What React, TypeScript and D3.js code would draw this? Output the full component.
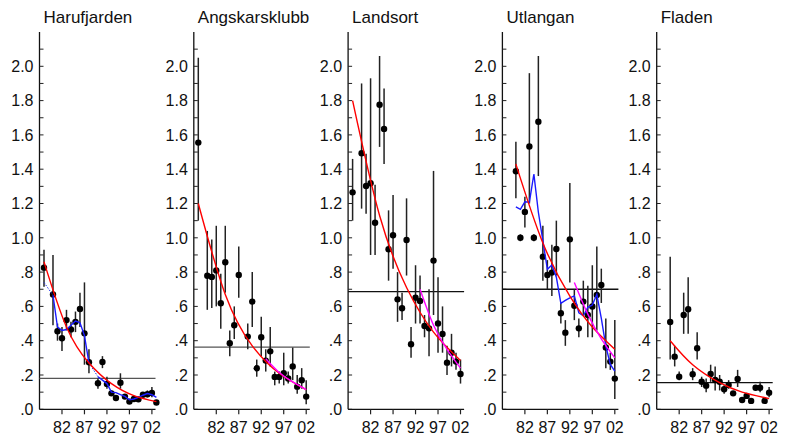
import { useRef, useEffect } from "react";
import * as d3 from "d3";

// station names
const stations = ["Harufjarden", "Angskarsklubb", "Landsort", "Utlangan", "Fladen"];

// Harufjarden
const haruYears = [1978, 1980, 1981, 1982, 1983, 1984, 1985, 1986, 1987, 1988, 1990, 1991, 1992, 1993, 1994, 1995, 1996, 1997, 1998, 1999, 2000, 2001, 2002, 2003];
const haruMean = [0.826, 0.67, 0.455, 0.414, 0.52, 0.466, 0.51, 0.585, 0.443, 0.274, 0.152, 0.276, 0.148, 0.093, 0.066, 0.155, 0.074, 0.045, 0.06, 0.058, 0.085, 0.088, 0.095, 0.04];
const haruLo = [0.715, 0.49, 0.4, 0.34, 0.46, 0.42, 0.45, 0.48, 0.26, 0.21, 0.12, 0.24, 0.12, 0.08, 0.06, 0.12, 0.065, 0.04, 0.05, 0.05, 0.07, 0.07, 0.07, 0.035];
const haruHi = [0.93, 0.9, 0.5, 0.48, 0.58, 0.51, 0.57, 0.68, 0.74, 0.35, 0.18, 0.31, 0.19, 0.11, 0.075, 0.21, 0.085, 0.05, 0.07, 0.065, 0.1, 0.11, 0.13, 0.045];
const haruSmooth = [0.74, 0.665, 0.48, 0.46, 0.465, 0.49, 0.515, 0.505, 0.43, 0.27, 0.19, 0.17, 0.15, 0.1, 0.097, 0.085, 0.075, 0.055, 0.06, 0.07, 0.082, 0.092, 0.085, 0.07];
const haruFit = [[1978, 0.86], [1983, 0.48], [1988, 0.27], [1993, 0.15], [1998, 0.08], [2003, 0.045]];
const haruRef = 0.18;

// Angskarsklubb
const angsYears = [1978, 1980, 1981, 1982, 1983, 1984, 1985, 1986, 1987, 1989, 1990, 1991, 1992, 1993, 1994, 1995, 1996, 1997, 1998, 1999, 2000, 2001, 2002];
const angsMean = [1.555, 0.779, 0.772, 0.81, 0.618, 0.857, 0.385, 0.49, 0.783, 0.424, 0.628, 0.239, 0.42, 0.284, 0.338, 0.189, 0.189, 0.21, 0.18, 0.25, 0.132, 0.169, 0.074];
const angsLo = [1.1, 0.58, 0.59, 0.6, 0.47, 0.68, 0.31, 0.41, 0.65, 0.35, 0.48, 0.19, 0.31, 0.22, 0.25, 0.14, 0.15, 0.14, 0.15, 0.17, 0.09, 0.12, 0.03];
const angsHi = [2.05, 1.04, 0.99, 1.07, 0.79, 1.07, 0.46, 0.6, 0.95, 0.5, 0.8, 0.29, 0.54, 0.35, 0.48, 0.22, 0.22, 0.33, 0.22, 0.36, 0.2, 0.24, 0.17];
const angsFit = [[1978, 1.2], [1984, 0.67], [1990, 0.37], [1996, 0.21], [2002, 0.115]];
const angsRecent = [[1993, 0.295], [1996, 0.215], [1999, 0.16], [2002, 0.115]];
const angsRef = 0.363;

// Landsort
const landYears = [1978, 1980, 1981, 1982, 1983, 1984, 1985, 1986, 1987, 1988, 1989, 1990, 1991, 1992, 1993, 1994, 1995, 1996, 1997, 1998, 1999, 2000, 2001, 2002];
const landMean = [1.265, 1.493, 1.302, 1.318, 1.088, 1.776, 1.635, 0.933, 1.015, 0.641, 0.589, 0.987, 0.379, 0.651, 0.632, 0.486, 0.472, 0.867, 0.501, 0.439, 0.272, 0.33, 0.278, 0.206];
const landLo = [1.1, 1.17, 1.14, 0.9, 0.9, 1.53, 1.43, 0.75, 0.82, 0.51, 0.52, 0.78, 0.3, 0.5, 0.5, 0.42, 0.31, 0.55, 0.33, 0.33, 0.2, 0.25, 0.23, 0.15];
const landHi = [1.46, 1.9, 1.49, 1.93, 1.31, 2.06, 1.87, 1.16, 1.25, 0.8, 0.68, 1.23, 0.48, 0.84, 0.78, 0.55, 0.7, 1.39, 0.77, 0.6, 0.37, 0.44, 0.33, 0.29];
const landFit = [[1978, 1.8], [1984, 1.13], [1990, 0.71], [1996, 0.45], [2002, 0.285]];
const landRecent = [[1993, 0.7], [1996, 0.49], [1999, 0.35], [2002, 0.24]];
const landRef = 0.686;

// Utlangan
const utlaYears = d3.range(1980, 2003);
const utlaMean = [1.388, 1.0, 1.151, 1.532, 1.0, 1.677, 0.89, 0.783, 0.797, 0.935, 0.56, 0.447, 0.991, 0.604, 0.472, 0.628, 0.55, 0.599, 0.667, 0.725, 0.36, 0.278, 0.179];
const utlaLo = [1.23, 0.98, 1.06, 1.2, 0.98, 1.36, 0.75, 0.7, 0.66, 0.78, 0.5, 0.37, 0.74, 0.52, 0.42, 0.55, 0.42, 0.42, 0.46, 0.62, 0.24, 0.23, 0.06];
const utlaHi = [1.56, 1.02, 1.24, 1.96, 1.02, 2.06, 1.07, 0.87, 0.96, 1.1, 0.62, 0.52, 1.32, 0.7, 0.53, 0.75, 0.72, 0.84, 0.95, 0.82, 0.53, 0.33, 0.52];
const utlaSmooth = [1.18, 1.166, 1.21, 1.207, 1.372, 1.149, 0.983, 0.816, 0.842, 0.77, 0.618, 0.635, 0.65, 0.661, 0.563, 0.545, 0.595, 0.608, 0.67, 0.53, 0.37, 0.262, 0.222];
const utlaFit = [[1980, 1.43], [1986, 0.97], [1992, 0.66], [1997, 0.48], [2002, 0.35]];
const utlaRecent = [[1993, 0.74], [1996, 0.555], [1999, 0.41], [2002, 0.3]];
const utlaRef = 0.7;

// Fladen
const fladYears = d3.range(1980, 2003);
const fladMean = [0.509, 0.307, 0.19, 0.55, 0.583, 0.204, 0.356, 0.161, 0.138, 0.206, 0.171, 0.161, 0.117, 0.142, 0.093, 0.177, 0.054, 0.078, 0.049, 0.126, 0.126, 0.049, 0.097];
const fladLo = [0.29, 0.25, 0.17, 0.44, 0.44, 0.17, 0.29, 0.13, 0.1, 0.16, 0.11, 0.11, 0.09, 0.12, 0.08, 0.13, 0.045, 0.065, 0.04, 0.11, 0.1, 0.04, 0.07];
const fladHi = [0.89, 0.37, 0.22, 0.68, 0.77, 0.24, 0.45, 0.19, 0.18, 0.26, 0.25, 0.2, 0.14, 0.17, 0.105, 0.23, 0.065, 0.09, 0.06, 0.14, 0.16, 0.06, 0.13];
const fladFit = [[1980, 0.4], [1985, 0.26], [1991, 0.155], [1996, 0.1], [2002, 0.062]];
const fladRef = 0.155;

// axis ticks
const xTickYears = [1982, 1987, 1992, 1997, 2002];
const xTickLabels = ["82", "87", "92", "97", "02"];
const yTicks = d3.range(0, 22).map((i) => i / 10);

const panels = [
  { years: haruYears, mean: haruMean, lo: haruLo, hi: haruHi, smooth: haruSmooth, fit: haruFit, recent: null, ref: haruRef },
  { years: angsYears, mean: angsMean, lo: angsLo, hi: angsHi, smooth: null, fit: angsFit, recent: angsRecent, ref: angsRef },
  { years: landYears, mean: landMean, lo: landLo, hi: landHi, smooth: null, fit: landFit, recent: landRecent, ref: landRef },
  { years: utlaYears, mean: utlaMean, lo: utlaLo, hi: utlaHi, smooth: utlaSmooth, fit: utlaFit, recent: utlaRecent, ref: utlaRef },
  { years: fladYears, mean: fladMean, lo: fladLo, hi: fladHi, smooth: null, fit: fladFit, recent: null, ref: fladRef },
];

function App() {
  const svgRef = useRef<SVGSVGElement>(null);

  useEffect(() => {
    const w = 785;
    const h = 439;
    const font = "'Liberation Sans', Arial, Helvetica, sans-serif";
    const svg = d3.select(svgRef.current).attr("width", w).attr("height", h);
    svg.selectAll("*").remove();

    // shared scales, each panel is shifted horizontally
    const panelW = 116;
    const xScale = d3.scaleLinear().domain([1977, 2002.8]).range([0, panelW]);
    const yScale = d3.scaleLinear().domain([0, 2.2]).range([409.3, 32]);
    const y0 = yScale(0);

    panels.forEach((p, i) => {
      const g = svg.append("g").attr("transform", `translate(${39.5 + i * 154.3}, 0)`);

      // title
      g.append("text")
        .attr("x", 4)
        .attr("y", 23)
        .attr("font-family", font)
        .attr("font-size", 17)
        .attr("fill", "#111")
        .text(stations[i]);

      // y axis
      g.append("line")
        .attr("x1", 0).attr("x2", 0)
        .attr("y1", yScale(0)).attr("y2", yScale(2.2))
        .attr("stroke", "#111").attr("stroke-width", 1.3);
      g.selectAll(".ytick")
        .data(yTicks)
        .enter()
        .append("line")
        .attr("x1", 0).attr("x2", 4)
        .attr("y1", (d) => yScale(d)).attr("y2", (d) => yScale(d))
        .attr("stroke", "#222").attr("stroke-width", 1);
      g.selectAll(".ylab")
        .data(yTicks.filter((_, k) => k % 2 === 0))
        .enter()
        .append("text")
        .attr("x", -6)
        .attr("y", (d) => yScale(d))
        .attr("dy", "0.36em")
        .attr("text-anchor", "end")
        .attr("font-family", font)
        .attr("font-size", 16)
        .attr("fill", "#111")
        .text((d) => d3.format(".1f")(d).replace(/^0/, ""));

      // x axis
      g.append("line")
        .attr("x1", 0).attr("x2", panelW)
        .attr("y1", y0).attr("y2", y0)
        .attr("stroke", "#111").attr("stroke-width", 1.3);
      g.selectAll(".xtick")
        .data(xTickYears)
        .enter()
        .append("line")
        .attr("x1", (d) => xScale(d)).attr("x2", (d) => xScale(d))
        .attr("y1", y0).attr("y2", y0 + 5)
        .attr("stroke", "#222").attr("stroke-width", 1.2);
      g.selectAll(".xlab")
        .data(xTickYears)
        .enter()
        .append("text")
        .attr("x", (d) => xScale(d))
        .attr("y", y0 + 24)
        .attr("text-anchor", "middle")
        .attr("font-family", font)
        .attr("font-size", 16)
        .attr("fill", "#111")
        .text((d, k) => xTickLabels[k]);

      // reference level
      g.append("line")
        .attr("x1", 0).attr("x2", panelW)
        .attr("y1", yScale(p.ref)).attr("y2", yScale(p.ref))
        .attr("stroke", i < 2 ? "#555" : "#111").attr("stroke-width", 1.3);

      // error bars
      g.selectAll(".err")
        .data(p.years)
        .enter()
        .append("line")
        .attr("x1", (d) => xScale(d)).attr("x2", (d) => xScale(d))
        .attr("y1", (d, k) => yScale(p.lo[k])).attr("y2", (d, k) => yScale(p.hi[k]))
        .attr("stroke", "#222").attr("stroke-width", 1.5);

      // annual means
      g.selectAll(".pt")
        .data(p.years)
        .enter()
        .append("circle")
        .attr("cx", (d) => xScale(d))
        .attr("cy", (d, k) => yScale(p.mean[k]))
        .attr("r", 3.2)
        .attr("fill", "#000");

      const line = d3.line<number[]>()
        .x((d) => xScale(d[0]))
        .y((d) => yScale(d[1]));

      // smoothed series: solid where years are consecutive, dotted across gaps
      if (p.smooth) {
        const pts = p.years.map((yr, k) => [yr, p.smooth![k]]);
        let run: number[][] = [pts[0]];
        const runs: number[][][] = [];
        for (let k = 1; k < pts.length; k++) {
          if (pts[k][0] - pts[k - 1][0] > 1) {
            runs.push(run);
            g.append("path")
              .attr("d", line([pts[k - 1], pts[k]]))
              .attr("fill", "none")
              .attr("stroke", "#2233ee")
              .attr("stroke-width", 1)
              .attr("stroke-dasharray", "1.5,1.5");
            run = [pts[k]];
          } else {
            run.push(pts[k]);
          }
        }
        runs.push(run);
        runs.forEach((r) => {
          g.append("path")
            .attr("d", line(r))
            .attr("fill", "none")
            .attr("stroke", "#1a1aff")
            .attr("stroke-width", 1.4);
        });
      }

      // log-linear trend, whole period
      g.append("path")
        .attr("d", line.curve(d3.curveNatural)(p.fit))
        .attr("fill", "none")
        .attr("stroke", "#ff0000")
        .attr("stroke-width", 1.4);

      // trend, last ten years
      if (p.recent) {
        g.append("path")
          .attr("d", line.curve(d3.curveNatural)(p.recent))
          .attr("fill", "none")
          .attr("stroke", "#ff00ff")
          .attr("stroke-width", 1.4);
      }
    });
  }, []);

  return (
    <svg
      ref={svgRef}
      style={{ position: "absolute", left: 0, top: 0, background: "#fff" }}
    ></svg>
  );
}

export default App;
